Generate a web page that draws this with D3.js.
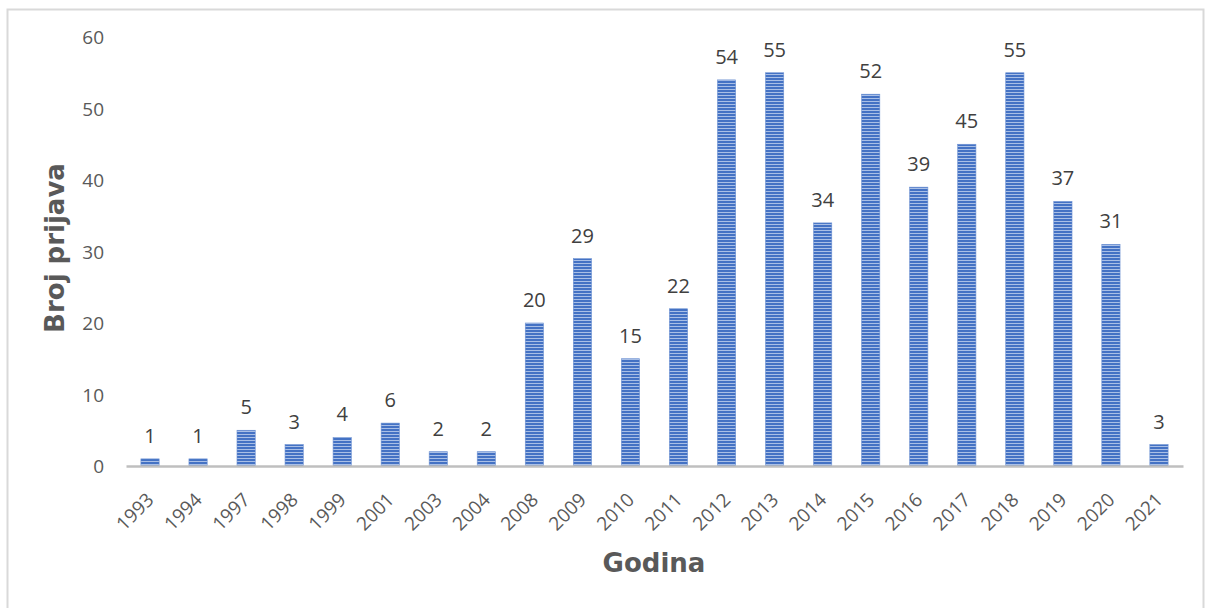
<!DOCTYPE html>
<html>
<head>
<meta charset="utf-8">
<script src="https://cdn.jsdelivr.net/npm/d3@7"></script>
<style>
  body { margin: 0; background: #fff; }
  svg { display: block; font-family: "Open Sans", "Noto Sans", sans-serif; }
</style>
</head>
<body>
<svg width="1208" height="608"></svg>
<script>
var years = ["1993", "1994", "1997", "1998", "1999", "2001", "2003", "2004", "2008", "2009", "2010",
  "2011", "2012", "2013", "2014", "2015", "2016", "2017", "2018", "2019", "2020", "2021"];
var counts = [1, 1, 5, 3, 4, 6, 2, 2, 20, 29, 15, 22, 54, 55, 34, 52, 39, 45, 55, 37, 31, 3];
var yTicks = [0, 10, 20, 30, 40, 50, 60];

var svg = d3.select("svg"),
  plotLeft = 126, plotRight = 1183, plotTop = 37, plotBottom = 466;

// frame
svg.append("rect")
  .attr("x", 7.5).attr("y", 9.5)
  .attr("width", 1196).attr("height", 610)
  .attr("fill", "none").attr("stroke", "#d9d9d9").attr("stroke-width", 2);

// horizontal stripes like the original fill
var defs = svg.append("defs");
var pat = defs.append("pattern")
  .attr("id", "stripes")
  .attr("patternUnits", "userSpaceOnUse")
  .attr("width", 8).attr("height", 3);
pat.append("rect").attr("width", 8).attr("height", 3).attr("fill", "#4472c4");
pat.append("rect").attr("y", 2).attr("width", 8).attr("height", 1).attr("fill", "#a9bfe6");

var x = d3.scaleBand()
  .domain(years)
  .range([plotLeft, plotRight])
  .paddingInner(0.62)
  .paddingOuter(0.31);

var y = d3.scaleLinear()
  .domain([0, 60])
  .range([plotBottom, plotTop]);

// y axis labels
var yAxis = svg.append("g")
  .attr("transform", "translate(104,0)")
  .call(d3.axisLeft(y).tickValues(yTicks).tickSize(0).tickPadding(0));
yAxis.attr("font-size", 19).attr("font-family", "'Open Sans', sans-serif");
yAxis.select(".domain").remove();
yAxis.selectAll("text").attr("fill", "#595959").attr("dy", "0.35em");

// bars
svg.append("g")
  .selectAll("rect")
  .data(counts)
  .enter()
  .append("rect")
  .attr("x", function(d, i) { return x(years[i]); })
  .attr("y", function(d) { return y(d); })
  .attr("width", x.bandwidth())
  .attr("height", function(d) { return y(0) - y(d); })
  .attr("fill", "url(#stripes)")
  .attr("stroke", "#6f93d3")
  .attr("stroke-width", 0.6);

// value labels
svg.append("g")
  .selectAll("text")
  .data(counts)
  .enter()
  .append("text")
  .attr("x", function(d, i) { return x(years[i]) + x.bandwidth() / 2; })
  .attr("y", function(d) { return y(d) - 16; })
  .attr("text-anchor", "middle")
  .attr("font-size", 20)
  .attr("fill", "#404040")
  .text(function(d) { return d; });

// x axis
var xAxis = svg.append("g")
  .attr("transform", "translate(0," + plotBottom + ")")
  .call(d3.axisBottom(x).tickSize(0).tickPadding(0));
xAxis.attr("font-size", 19).attr("font-family", "'Open Sans', sans-serif");
xAxis.select(".domain")
  .attr("stroke", "#bfbfbf")
  .attr("stroke-width", 2.5);
xAxis.selectAll("text")
  .attr("fill", "#595959")
  .attr("text-anchor", "end")
  .attr("dy", 0)
  .attr("transform", "translate(5,35) rotate(-45)");

// axis titles
svg.append("text")
  .attr("transform", "translate(64,248) rotate(-90)")
  .attr("text-anchor", "middle")
  .attr("font-family", "'DejaVu Sans', sans-serif")
  .attr("font-size", 26)
  .attr("font-weight", "bold")
  .attr("fill", "#595959")
  .text("Broj prijava");

svg.append("text")
  .attr("x", 654)
  .attr("y", 572)
  .attr("text-anchor", "middle")
  .attr("font-family", "'DejaVu Sans', sans-serif")
  .attr("font-size", 26)
  .attr("font-weight", "bold")
  .attr("fill", "#595959")
  .text("Godina");
</script>
</body>
</html>
